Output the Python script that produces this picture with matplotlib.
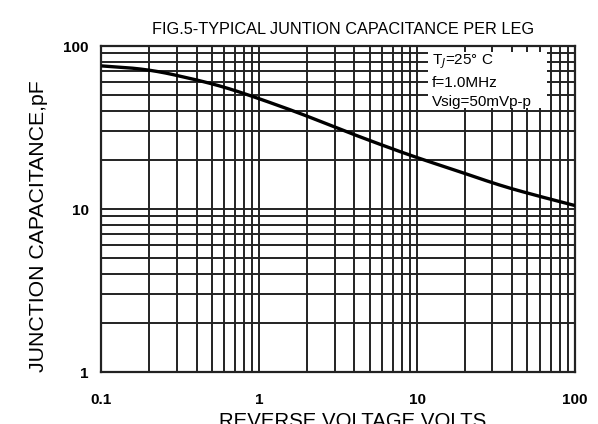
import matplotlib
matplotlib.use("Agg")
import matplotlib.pyplot as plt
from matplotlib.patches import Rectangle
import numpy as np

# Data
voltage = [0.1, 0.2, 0.3, 0.5, 0.7, 1, 1.5, 2, 3, 5, 10, 20, 30, 50, 100]
capacitance = [75.5, 72, 66, 59, 53.5, 47.5, 41.3, 37.3, 31.8, 26.3, 20.6, 16.6, 14.4, 12.5, 10.5]

x_ticks = [0.1, 1, 10, 100]
x_tick_labels = ["0.1", "1", "10", "100"]
y_ticks = [1, 10, 100]
y_tick_labels = ["1", "10", "100"]

title = "FIG.5-TYPICAL JUNTION CAPACITANCE PER LEG"
xlabel = "REVERSE VOLTAGE VOLTS"
ylabel = "JUNCTION CAPACITANCE,pF"
notes = ["T$_J$=25° C", "f=1.0MHz", "Vsig=50mVp-p"]

plt.rcParams['font.family'] = ['Liberation Sans', 'DejaVu Sans']

fig = plt.figure(figsize=(5.98, 4.24), dpi=100)
ax = fig.add_axes([0.1697, 0.1226, 0.7918, 0.7689])
ax.set_xscale('log')
ax.set_yscale('log')
ax.set_xlim(0.1, 100)
ax.set_ylim(1, 100)

# Grid lines (major and minor) on the log axes
for dec in [0.1, 1, 10]:
    for m in range(1, 10):
        ax.axvline(dec * m, color='#222222', lw=1.4, zorder=1)
for dec in [1, 10]:
    for m in range(1, 10):
        ax.axhline(dec * m, color='#222222', lw=1.4, zorder=1)

# Note box (white background hiding grid)
ax.add_patch(Rectangle((0.69, 0.81), 0.251, 0.172, transform=ax.transAxes,
                       facecolor='white', edgecolor='none', zorder=2))
note_y = [0.951, 0.886, 0.828]
for t, yy in zip(notes, note_y):
    ax.text(0.697, yy, t, transform=ax.transAxes, fontsize=11,
            va='center', ha='left', zorder=3)

# Curve (smoothed in log space for drawing)
lx = np.log10(voltage)
ly = np.log10(capacitance)
xs = np.linspace(lx[0], lx[-1], 400)
ys = np.interp(xs, lx, ly)
k = np.ones(41) / 41
ys_s = np.convolve(np.pad(ys, 20, mode='reflect', reflect_type='odd'), k, mode='valid')
ax.plot(10 ** xs, 10 ** ys_s, color='black', lw=2.4, zorder=4, solid_capstyle='butt')

for s in ax.spines.values():
    s.set_linewidth(1.6)
    s.set_color('#222222')

ax.set_xticks(x_ticks)
ax.set_xticklabels(x_tick_labels)
ax.set_yticks(y_ticks)
ax.set_yticklabels(y_tick_labels)
ax.minorticks_off()
ax.tick_params(length=0, labelsize=11)
ax.tick_params(axis='x', pad=15)
ax.tick_params(axis='y', pad=9)
for lab in ax.get_xticklabels() + ax.get_yticklabels():
    lab.set_fontweight('bold')

fig.text(0.574, 0.93, title, ha='center', va='center', fontsize=11.7)
fig.text(0.064, 0.467, ylabel, ha='center', va='center', rotation=90, fontsize=15.3)
fig.text(0.59, -0.006, xlabel, ha='center', va='baseline', fontsize=14.7)

fig.savefig('out.png', dpi=100)
